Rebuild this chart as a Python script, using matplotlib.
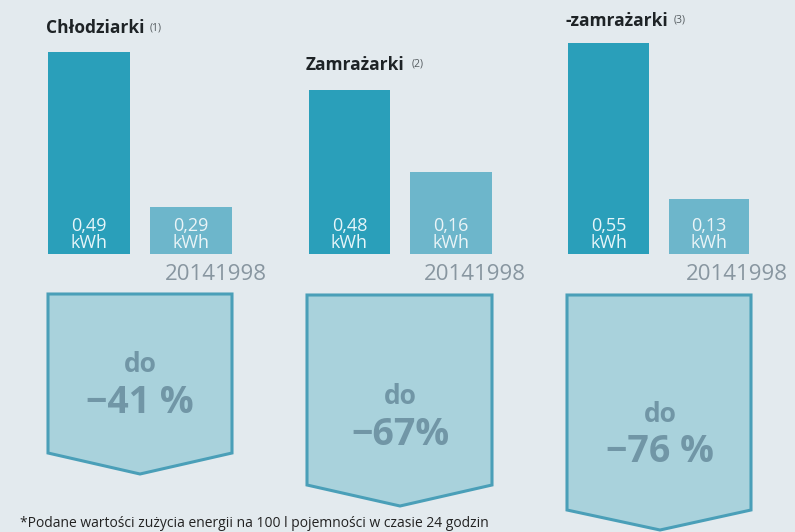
import matplotlib.pyplot as plt
from matplotlib.patches import Polygon

# Dane z infografiki
kategorie = ["Chłodziarki", "Zamrażarki", "-zamrażarki"]
przypisy = ["(1)", "(2)", "(3)"]
zuzycie_1 = [0.49, 0.48, 0.55]   # ciemny słupek
zuzycie_2 = [0.29, 0.16, 0.13]   # jasny słupek
etykieta_lat = "20141998"
spadek = ["−41 %", "−67%", "−76 %"]
przypis_dolny = "*Podane wartości zużycia energii na 100 l pojemności w czasie 24 godzin"

# Kolory
tlo = "#e3eaee"
ciemny = "#2a9fba"
jasny = "#6db6cb"
strzalka_fill = "#a9d2dc"
strzalka_edge = "#4a9fb8"
szary_tekst = "#7196a6"

plt.rcParams['font.family'] = ['Open Sans', 'DejaVu Sans']

W, H = 795, 532
fig = plt.figure(figsize=(W / 100, H / 100), dpi=100, facecolor=tlo)

# Warstwa tła w pikselach
ax0 = fig.add_axes([0, 0, 1, 1])
ax0.set_xlim(0, W)
ax0.set_ylim(H, 0)
ax0.axis('off')

# Układ grup (piksele): środek ciemnego słupka, odstęp, skala osi Y
srodki = [89, 349.5, 608.5]
odstepy = [102, 101.5, 100.5]
skale_y = [(0.2294, 0.5055), (-0.16, 0.6751), (-0.0181, 0.5581)]
dol, gora = 254, 40

tytuly_xy = [(46, 33), (306, 70), (566, 26)]
przypis_x = [150, 412, 674]
lata_x = [216, 475, 737]
strzalki = [
    [(48, 294), (232, 294), (232, 453), (140, 474), (48, 453)],
    [(307, 295), (492, 295), (492, 485), (400, 506), (307, 485)],
    [(567, 295), (751, 295), (751, 510), (660, 530), (567, 510)],
]
do_y = [365, 397, 415]
proc_y = [403, 435, 452]

for i in range(3):
    # słupki
    lewo = srodki[i] - odstepy[i] / 2
    ax = fig.add_axes([lewo / W, (H - dol) / H, 2 * odstepy[i] / W, (dol - gora) / H])
    ax.patch.set_alpha(0)
    lo, hi = skale_y[i]
    ax.set_xlim(-0.5, 1.5)
    ax.set_ylim(lo, hi)
    ax.axis('off')
    wartosci = [zuzycie_1[i], zuzycie_2[i]]
    kolory = [ciemny, jasny]
    ax.bar([0, 1], [v - lo for v in wartosci], bottom=lo, width=0.805, color=kolory)
    for j, v in enumerate(wartosci):
        txt = f"{v:.2f}".replace(".", ",") + "\nkWh"
        ax.annotate(txt, xy=(j, lo), xytext=(0, 2), textcoords='offset pixels',
                    ha='center', va='bottom', fontsize=13, linespacing=0.9,
                    color="#e6f5f9" if j == 0 else "#eaf4f7")

    # tytuły
    tx, ty = tytuly_xy[i]
    ax0.text(tx, ty, kategorie[i], fontsize=12.5, fontweight='bold', color="#1e2326",
             ha='left', va='baseline')
    ax0.text(przypis_x[i], ty - 3, przypisy[i], fontsize=7.5, color="#555c60",
             ha='left', va='baseline')

    # etykieta lat
    ax0.text(lata_x[i], 275, etykieta_lat, fontsize=16, color="#8896a0",
             ha='center', va='center')

    # strzałka
    ax0.add_patch(Polygon(strzalki[i], closed=True, facecolor=strzalka_fill,
                          edgecolor=strzalka_edge, linewidth=2.2, joinstyle='miter'))
    cx = strzalki[i][3][0]
    ax0.text(cx, do_y[i], "do", fontsize=19, fontweight='bold', color=szary_tekst,
             ha='center', va='center')
    ax0.text(cx, proc_y[i], spadek[i], fontsize=27, fontweight='bold', color=szary_tekst,
             ha='center', va='center')

ax0.text(20, 527, przypis_dolny, fontsize=10, color="#222222", ha='left', va='baseline')

fig.savefig("out.png", dpi=100, facecolor=tlo)
